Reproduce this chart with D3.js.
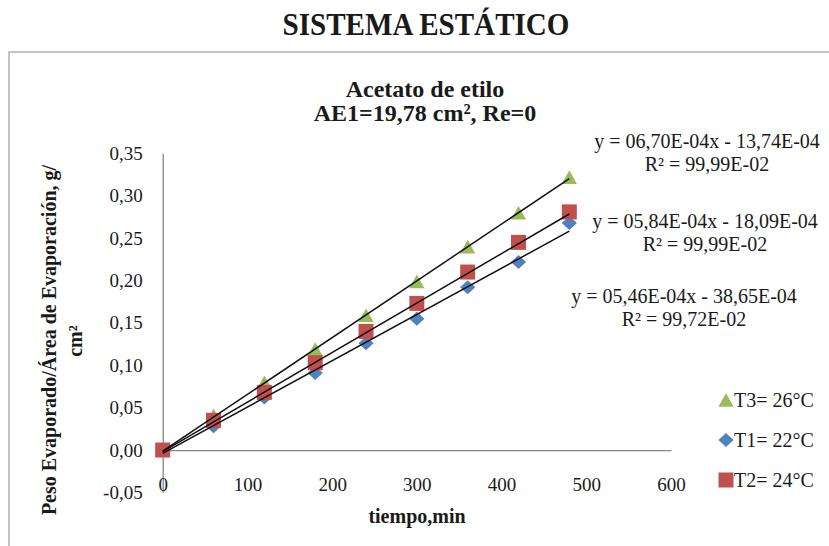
<!DOCTYPE html>
<html>
<head>
<meta charset="utf-8">
<script src="https://cdn.jsdelivr.net/npm/d3@7"></script>
<style>
  body { margin: 0; background: #fff; }
  text { font-family: 'Liberation Serif', 'Times New Roman', serif; fill: #1a1a1a; }
</style>
</head>
<body>
<svg id="chart"></svg>
<script>
// Data
const tiempo = [0, 60, 120, 180, 240, 300, 360, 420, 480];
const t3Values = [0, 0.041, 0.080, 0.119, 0.159, 0.199, 0.240, 0.280, 0.322];
const t1Values = [0, 0.028, 0.062, 0.091, 0.126, 0.155, 0.192, 0.222, 0.268];
const t2Values = [0, 0.035, 0.068, 0.103, 0.140, 0.173, 0.210, 0.245, 0.281];

const seriesNames = ['T3= 26°C', 'T1= 22°C', 'T2= 24°C'];
const seriesColors = ['#9BBB59', '#4F81BD', '#C0504D'];

// trendline coefficients as printed on the chart
const slopes = [6.70e-4, 5.46e-4, 5.84e-4];
const intercepts = [-13.74e-4, -38.65e-4, -18.09e-4];
const eqTexts = ['y = 06,70E-04x - 13,74E-04', 'y = 05,46E-04x - 38,65E-04', 'y = 05,84E-04x - 18,09E-04'];
const r2Texts = ['R² = 99,99E-02', 'R² = 99,72E-02', 'R² = 99,99E-02'];

const xTicks = [0, 100, 200, 300, 400, 500, 600];
const yTicks = [-0.05, 0, 0.05, 0.10, 0.15, 0.20, 0.25, 0.30, 0.35];

const width = 829, height = 546;

const svg = d3.select('#chart')
  .attr('width', width)
  .attr('height', height)
  .attr('viewBox', [0, 0, width, height]);

svg.append('rect').attr('width', width).attr('height', height).attr('fill', '#fff');

// outer chart frame
svg.append('rect')
  .attr('x', 9).attr('y', 52)
  .attr('width', 840).attr('height', 520)
  .attr('fill', 'none')
  .attr('stroke', '#c3c3c3')
  .attr('stroke-width', 2);

// page title
svg.append('text')
  .attr('x', 426).attr('y', 35)
  .attr('text-anchor', 'middle')
  .attr('font-size', 31)
  .attr('font-weight', 'bold')
  .attr('textLength', 287)
  .attr('lengthAdjust', 'spacingAndGlyphs')
  .text('SISTEMA ESTÁTICO');

// chart title
svg.append('text')
  .attr('x', 425).attr('y', 97)
  .attr('text-anchor', 'middle')
  .attr('font-size', 24)
  .attr('font-weight', 'bold')
  .text('Acetato de etilo');
svg.append('text')
  .attr('x', 425).attr('y', 121)
  .attr('text-anchor', 'middle')
  .attr('font-size', 24)
  .attr('font-weight', 'bold')
  .text('AE1=19,78 cm², Re=0');

// scales
const x = d3.scaleLinear([0, 600], [162.7, 671]);
const y = d3.scaleLinear([-0.05, 0.35], [492.4, 153.4]);

const locale = d3.formatLocale({ decimal: ',', thousands: '.', grouping: [3], currency: ['', ''], minus: '-' });
const fmtY = locale.format('.2f');

// y axis
const yAxis = svg.append('g')
  .attr('transform', `translate(${x(0)},0)`)
  .call(d3.axisLeft(y).tickValues(yTicks).tickFormat(fmtY).tickSize(0).tickSizeOuter(0).tickPadding(20));
yAxis.select('.domain').attr('stroke', '#868686').attr('stroke-width', 1.3);
yAxis.selectAll('text')
  .attr('font-family', "'Liberation Serif', 'Times New Roman', serif")
  .attr('font-size', 19).attr('fill', '#1a1a1a');

// x axis
const xAxis = svg.append('g')
  .attr('transform', `translate(0,${y(0)})`)
  .call(d3.axisBottom(x).tickValues(xTicks).tickFormat(d3.format('d')).tickSize(0).tickSizeOuter(0).tickPadding(27));
xAxis.select('.domain').attr('stroke', '#868686').attr('stroke-width', 1.3);
xAxis.selectAll('text')
  .attr('font-family', "'Liberation Serif', 'Times New Roman', serif")
  .attr('font-size', 19).attr('fill', '#1a1a1a');

// axis titles
svg.append('text')
  .attr('x', 417).attr('y', 523)
  .attr('text-anchor', 'middle')
  .attr('font-size', 20)
  .attr('font-weight', 'bold')
  .text('tiempo,min');

svg.append('text')
  .attr('transform', 'translate(56,340) rotate(-90)')
  .attr('text-anchor', 'middle')
  .attr('font-size', 20)
  .attr('font-weight', 'bold')
  .text('Peso Evaporado/Área de Evaporación, g/');
svg.append('text')
  .attr('transform', 'translate(82,341) rotate(-90)')
  .attr('text-anchor', 'middle')
  .attr('font-size', 20)
  .attr('font-weight', 'bold')
  .text('cm²');

// marker shapes
const markerPaths = [
  'M0,-6.8L7.6,6.8L-7.6,6.8Z',       // triangle
  'M0,-7L7.6,0L0,7L-7.6,0Z',         // diamond
  'M-7.5,-7.5H7.5V7.5H-7.5Z'         // square
];

const series = [t3Values, t1Values, t2Values];

// markers
series.forEach((vals, s) => {
  svg.append('g')
    .selectAll('path')
    .data(tiempo)
    .join('path')
      .attr('d', markerPaths[s])
      .attr('fill', seriesColors[s])
      .attr('transform', (d, i) => `translate(${x(d)},${y(vals[i])})`);
});

// trendlines
const line = d3.line().x(d => x(d[0])).y(d => y(d[1]));
const xEnds = [tiempo[0], tiempo[tiempo.length - 1]];
slopes.forEach((m, s) => {
  svg.append('path')
    .attr('d', line(xEnds.map(t => [t, m * t + intercepts[s]])))
    .attr('fill', 'none')
    .attr('stroke', '#111')
    .attr('stroke-width', 1.5);
});

// trendline labels (T3, T1, T2)
const eqPos = [[707, 148], [684, 303], [705, 228]];
eqTexts.forEach((t, s) => {
  svg.append('text')
    .attr('x', eqPos[s][0]).attr('y', eqPos[s][1])
    .attr('text-anchor', 'middle')
    .attr('font-size', 20)
    .text(t);
  svg.append('text')
    .attr('x', eqPos[s][0]).attr('y', eqPos[s][1] + 23)
    .attr('text-anchor', 'middle')
    .attr('font-size', 20)
    .text(r2Texts[s]);
});

// legend
const legend = svg.append('g')
  .selectAll('g')
  .data(seriesNames)
  .join('g')
    .attr('transform', (d, i) => `translate(726,${400 + i * 40})`);
legend.append('path')
  .attr('d', (d, i) => markerPaths[i])
  .attr('fill', (d, i) => seriesColors[i]);
legend.append('text')
  .attr('x', 8)
  .attr('dy', '0.36em')
  .attr('font-size', 20)
  .text(d => d);
</script>
</body>
</html>
